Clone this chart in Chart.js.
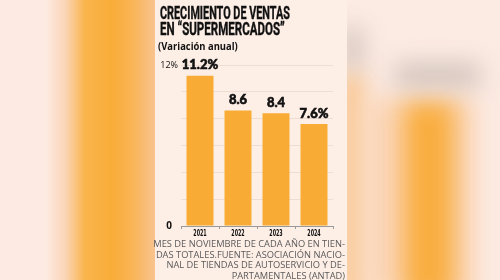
<!DOCTYPE html>
<html>
<head>
<meta charset="utf-8">
<script src="https://cdn.jsdelivr.net/npm/chart.js@4.4.1/dist/chart.umd.min.js"></script>
<style>
  html, body { margin: 0; padding: 0; }
  body {
    width: 500px; height: 280px; position: relative; overflow: hidden;
    background: #fcebe3; font-family: Roboto, "Open Sans", sans-serif;
  }
  .bg { position: absolute; }
  .blur { position: absolute; filter: blur(12px); }
  #leftBg {
    left: 0; top: 0; width: 160px; height: 280px;
    background: linear-gradient(to right, #fdebe3 0px, #fdebe3 45px, #fbd5b8 65px,
      #f9b54c 85px, #f9ac38 112px, #f9b455 132px, #f8c38f 155px);
  }
  #panel {
    position: absolute; left: 155px; top: 0; width: 192px; height: 280px;
    background: #fdeee6;
  }
  .title {
    position: absolute; left: 5px; font-weight: bold; color: #111; white-space: nowrap;
    transform-origin: 0 0; font-family: "Liberation Sans Narrow", Roboto, sans-serif;
    font-size: 18px; line-height: 18px; -webkit-text-stroke: 0.4px #111;
  }
  #t1 { top: 4px; }
  #t2 { top: 20px; }
  #sub {
    position: absolute; left: 3px; top: 40px; font-size: 10px; line-height: 12px;
    font-weight: bold; color: #111; white-space: nowrap; transform-origin: 0 0;
    font-family: "Open Sans", sans-serif;
  }
  #chartBox { position: absolute; left: 0; top: 55px; width: 192px; height: 185px; }
  #note {
    position: absolute; right: 2px; top: 239px; width: 200px; text-align: right;
    font-size: 9.3px; line-height: 10.5px; color: #5a5a5a; font-family: "Open Sans", sans-serif;
    white-space: nowrap;
  }
</style>
</head>
<body>
<div id="leftBg" class="bg"></div>
<!-- right blurred copy of the graphic -->
<div class="blur" style="left:340px;top:72px;width:22px;height:230px;background:#f8bf80;"></div>
<div class="blur" style="left:365px;top:98px;width:110px;height:200px;background:#fbd5b6;"></div>
<div class="blur" style="left:404px;top:102px;width:50px;height:200px;background:#f9ad3e;"></div>
<div class="blur" style="left:342px;top:28px;width:20px;height:40px;background:#cfc1ba;"></div>
<div class="blur" style="left:395px;top:64px;width:85px;height:22px;background:#cdbfb8;"></div>

<div id="panel">
  <div id="t1" class="title">CRECIMIENTO DE VENTAS</div>
  <div id="t2" class="title">EN “SUPERMERCADOS”</div>
  <div id="sub">(Variación anual)</div>
  <div id="chartBox"><canvas id="chart"></canvas></div>
  <div id="note">MES DE NOVIEMBRE DE CADA AÑO EN TIEN-<br>DAS TOTALES.FUENTE: ASOCIACIÓN NACIO-<br>NAL DE TIENDAS DE AUTOSERVICIO Y DE-<br>PARTAMENTALES (ANTAD)</div>
</div>

<script>
// --- Data ---
const years = ["2021", "2022", "2023", "2024"];
const growth = [11.2, 8.6, 8.4, 7.6];
const valueLabels = ["11.2%", "8.6", "8.4", "7.6%"];
const yTickLabels = { 0: "0", 12: "12%" };

// squeeze the condensed title lines to the width seen in the graphic
function fitWidth(id, w) {
  const el = document.getElementById(id);
  el.style.transform = "scaleX(" + (w / el.scrollWidth) + ")";
}
fitWidth("t1", 130);
fitWidth("t2", 125);
fitWidth("sub", 80);

// labels above bars + narrow year labels
const barText = {
  id: "barText",
  afterDatasetsDraw(chart) {
    const ctx = chart.ctx;
    const meta = chart.getDatasetMeta(0);
    ctx.save();
    ctx.fillStyle = "#111";
    ctx.strokeStyle = "#111";
    ctx.lineWidth = 0.6;
    ctx.textAlign = "center";
    ctx.textBaseline = "bottom";
    ctx.font = "900 13px Lato, 'Open Sans', sans-serif";
    meta.data.forEach((bar, i) => {
      ctx.fillText(valueLabels[i], bar.x, bar.y - 4);
      ctx.strokeText(valueLabels[i], bar.x, bar.y - 4);
    });
    // years under the axis
    const xs = chart.scales.x;
    ctx.font = "bold 8px 'DejaVu Sans', sans-serif";
    ctx.textBaseline = "top";
    years.forEach((y, i) => {
      ctx.save();
      ctx.translate(xs.getPixelForValue(i), xs.top + 4);
      ctx.scale(0.6, 1);
      ctx.fillText(y, 0, 0);
      ctx.restore();
    });
    ctx.restore();
  },
};

new Chart(document.getElementById("chart"), {
  type: "bar",
  data: {
    labels: years,
    datasets: [
      {
        data: growth,
        backgroundColor: "#f9ac35",
        barPercentage: 0.71,
        categoryPercentage: 1,
      },
    ],
  },
  options: {
    responsive: true,
    maintainAspectRatio: false,
    animation: false,
    layout: { padding: { top: 10, right: 14, bottom: 0, left: 0 } },
    plugins: { legend: { display: false }, tooltip: { enabled: false } },
    scales: {
      x: {
        afterFit: (s) => { s.height = 14; },
        grid: { drawOnChartArea: false, tickLength: 3, color: "#9a9a9a" },
        border: { color: "#9a9a9a" },
        ticks: { display: false },
      },
      y: {
        min: 0,
        max: 12,
        afterFit: (s) => { s.width = 26; },
        grid: { drawTicks: false, color: "#efdcd2" },
        border: { display: false },
        ticks: {
          stepSize: 2,
          crossAlign: "center",
          padding: 3,
          color: "#111",
          font: (ctx) =>
            ctx.tick && ctx.tick.value === 0
              ? { family: "'Open Sans', sans-serif", size: 10, weight: "bold" }
              : { family: "'Open Sans', sans-serif", size: 9 },
          callback: (v) => (yTickLabels[v] !== undefined ? yTickLabels[v] : ""),
        },
      },
    },
  },
  plugins: [barText],
});
</script>
</body>
</html>
